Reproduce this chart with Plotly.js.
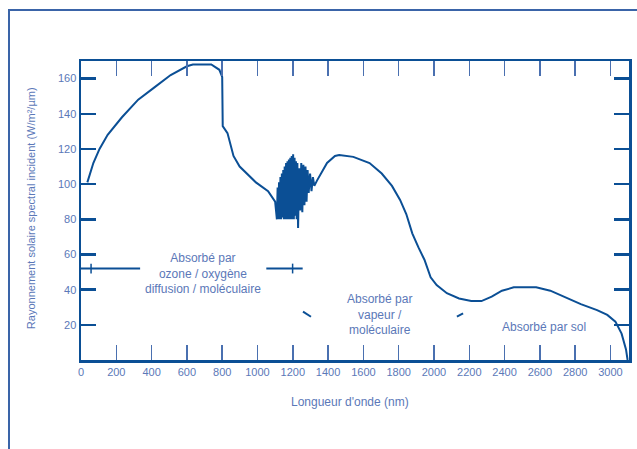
<!DOCTYPE html>
<html>
<head>
<meta charset="utf-8">
<script src="https://cdn.plot.ly/plotly-3.0.1.min.js"></script>
<style>
  html, body { margin: 0; padding: 0; background: #ffffff; }
  #frame { position: absolute; left: 8px; top: 9px; width: 700px; height: 500px;
           border-left: 2px solid #3a64a8; border-top: 2px solid #3a64a8; }
  #chart { position: absolute; left: 0; top: 0; width: 637px; height: 449px; }
</style>
</head>
<body>
<div id="frame"></div>
<div id="chart"></div>
<script>
// Spectrum curve (wavelength, intensity)
const specX = [36, 70, 105, 151, 232, 324, 416, 508, 600, 634, 738, 784, 800, 803, 830, 864, 899, 950, 991, 1060, 1100,
  1110, 1114, 1118, 1122, 1126, 1130, 1134, 1138, 1142, 1146, 1150, 1154, 1158, 1162, 1166, 1170, 1174, 1178, 1182, 1186,
  1190, 1194, 1198, 1202, 1206, 1210, 1214, 1218, 1222, 1226, 1230, 1236, 1242, 1248, 1254, 1260, 1266, 1272, 1278, 1284,
  1290, 1298, 1306, 1314, 1322, 1330,
  1337, 1394, 1439, 1463, 1543, 1635, 1704, 1762, 1808, 1843, 1877, 1912, 1946, 1981, 2015, 2073, 2142, 2211, 2269, 2327,
  2385, 2452, 2579, 2659, 2740, 2832, 2924, 2982, 3028, 3063, 3088, 3097];
const specY = [101, 112, 120, 128, 138, 148, 155, 162, 167, 168, 168, 165, 161, 133, 129, 116, 110, 105, 101, 96, 90,
  80, 98, 80, 101, 80, 104, 80, 106, 81, 108, 80, 110, 80, 112, 80, 113, 80, 114, 80, 115,
  80, 116, 80, 117, 80, 115, 82, 113, 80, 112, 75, 109, 85, 112, 84, 111, 88, 110, 90, 108,
  95, 106, 96, 104, 99, 101,
  102, 112, 116, 116.5, 115.5, 112, 106, 99, 91, 83, 72, 64, 57, 47, 42.6, 38, 35, 33.5, 33.5, 36,
  39.4, 41.3, 41.3, 39.4, 36, 31.8, 28.4, 25.6, 21.8, 15, 6, 0];

// Range indicator for first absorption band
const band1X = [0, 335, null, 1050, 1256];
const band1Y = [52, 52, null, 52, 52];
const band1MarkX = [57, 1199];
const band1MarkY = [52, 52];
// Small arrow marks for second band
const band2X = [1258, 1303, null, 2130, 2165];
const band2Y = [27.5, 24.6, null, 24.6, 26.5];

// Axis ticks
const xTickVals = [0, 200, 400, 600, 800, 1000, 1200, 1400, 1600, 1800, 2000, 2200, 2400, 2600, 2800, 3000];
const xTickText = ['0', '200', '400', '600', '800', '1000', '1200', '1400', '1600', '1800', '2000', '2200', '2400', '2600', '2800', '3000'];
const yTickVals = [20, 40, 60, 80, 100, 120, 140, 160];
const yTickText = ['20', '40', '60', '80', '100', '120', '140', '160'];

// Labels
const bandLabels = [
  {x: 691, y: 49.4, text: 'Absorbé par<br>ozone / oxygène<br>diffusion / moléculaire'},
  {x: 1694, y: 26.1, text: 'Absorbé par<br>vapeur /<br>moléculaire'},
  {x: 2624, y: 18.8, text: 'Absorbé par sol'}
];
const xTitle = "Longueur d'onde (nm)";
const yTitle = 'Rayonnement solaire spectral incident (W/m²/µm)';

const lineColor = '#0b4f95';
const textColor = '#5b78b8';
const fontFam = 'Liberation Sans, Arial, sans-serif';

const traces = [
  {x: specX, y: specY, mode: 'lines', line: {color: lineColor, width: 2}, hoverinfo: 'skip'},
  {x: band1X, y: band1Y, mode: 'lines', line: {color: lineColor, width: 2}, hoverinfo: 'skip'},
  {x: band1MarkX, y: band1MarkY, mode: 'markers', marker: {symbol: 'line-ns-open', size: 7, color: lineColor, line: {color: lineColor, width: 1.5}}, hoverinfo: 'skip'},
  {x: band2X, y: band2Y, mode: 'lines', line: {color: lineColor, width: 2}, hoverinfo: 'skip'}
];

const annotations = bandLabels.map(b => ({
  x: b.x, y: b.y, xref: 'x', yref: 'y', text: b.text, showarrow: false,
  font: {family: fontFam, size: 12, color: textColor}, align: 'center'
}));
annotations.push({x: 0.491, y: -0.14, xref: 'paper', yref: 'paper', text: xTitle, showarrow: false,
  font: {family: fontFam, size: 12, color: textColor}, xanchor: 'center', yanchor: 'middle'});
annotations.push({x: -0.0912, y: 0.508, xref: 'paper', yref: 'paper', text: yTitle, showarrow: false, textangle: -90,
  font: {family: fontFam, size: 11, color: textColor}, xanchor: 'center', yanchor: 'middle'});

const layout = {
  width: 637, height: 449,
  margin: {l: 81, r: 8, t: 61, b: 89, pad: 0},
  paper_bgcolor: 'rgba(0,0,0,0)', plot_bgcolor: 'rgba(0,0,0,0)',
  showlegend: false,
  xaxis: {range: [0, 3105], tickmode: 'array', tickvals: xTickVals, ticktext: xTickText,
    ticks: 'inside', ticklen: 15, tickwidth: 1.5, tickcolor: '#4a70b0',
    showline: true, linewidth: 2.5, linecolor: lineColor, mirror: 'ticks',
    showgrid: false, zeroline: false, tickfont: {family: fontFam, size: 11, color: textColor}},
  yaxis: {range: [0, 170], tickmode: 'array', tickvals: yTickVals, ticktext: yTickText,
    ticks: 'inside', ticklen: 15, tickwidth: 2.5, tickcolor: lineColor,
    showline: true, linewidth: 2.5, linecolor: lineColor, mirror: 'ticks',
    showgrid: false, zeroline: false, tickfont: {family: fontFam, size: 11, color: textColor}},
  annotations: annotations
};

Plotly.newPlot('chart', traces, layout, {staticPlot: true, displayModeBar: false});
</script>
</body>
</html>
